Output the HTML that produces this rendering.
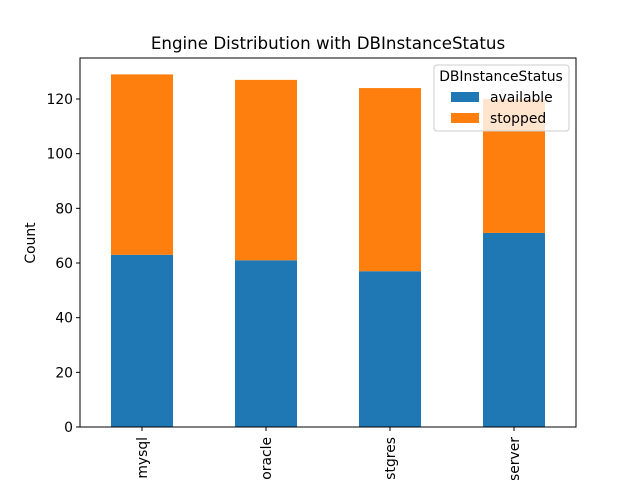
<!DOCTYPE html>
<html><head><meta charset="utf-8"><style>html,body{margin:0;background:#fff;overflow:hidden;width:640px;height:480px}svg{display:block;font-family:"DejaVu Sans","Liberation Sans",sans-serif}</style></head>
<body>
<svg id="chart" width="640" height="480" overflow="hidden">
<rect width="640" height="480" fill="#fff"/>
<text x="328" y="49" font-size="16.7" text-anchor="middle">Engine Distribution with DBInstanceStatus</text>
<g id="bars"></g>
<g id="yaxis"></g>
<g id="xaxis"></g>
<rect x="80" y="58" width="496" height="369" fill="none" stroke="#000" stroke-width="1"/>
<text transform="translate(35,243) rotate(-90)" font-size="13.9" text-anchor="middle">Count</text>
<g>
<rect x="434" y="65" width="135" height="66" rx="3" fill="#fff" fill-opacity="0.8" stroke="#ccc"/>
<text x="501" y="81" font-size="13.9" text-anchor="middle">DBInstanceStatus</text>
<rect x="451" y="92" width="28" height="10" fill="#1f77b4"/>
<text x="490" y="102" font-size="13.9">available</text>
<rect x="451" y="113" width="28" height="10" fill="#ff7f0e"/>
<text x="490" y="123" font-size="13.9">stopped</text>
</g>
</svg>
<script>
const categories=["mysql","oracle","postgres","sqlserver"];
const available=[63,61,57,71];
const stopped=[66,66,67,49];
const yTicks=[0,20,40,60,80,100,120];
const NS="http://www.w3.org/2000/svg";
const x0=80,x1=576,yTop=58,yBot=427,yMax=135;
function y(v){return yBot-(v/yMax)*(yBot-yTop);}
function xc(i){return x0+(i+0.5)*(x1-x0)/categories.length;}
const bw=62;
function mk(tag,attrs,parent){const e=document.createElementNS(NS,tag);for(const k in attrs)e.setAttribute(k,attrs[k]);parent.appendChild(e);return e;}
const bars=document.getElementById('bars'),ya=document.getElementById('yaxis'),xa=document.getElementById('xaxis');
categories.forEach((c,i)=>{
  const a=mk('rect',{x:xc(i)-bw/2,y:y(available[i]),width:bw,height:yBot-y(available[i]),fill:'#1f77b4'},bars);
  
  
  const tot=available[i]+stopped[i];
  const s=mk('rect',{x:xc(i)-bw/2,y:y(tot),width:bw,height:y(available[i])-y(tot),fill:'#ff7f0e'},bars);
  
  
  const t=mk('line',{x1:xc(i),x2:xc(i),y1:yBot,y2:yBot+4,stroke:'#000'},xa);
  
  
  const l=mk('text',{transform:`translate(${xc(i)+5},${yBot+10}) rotate(-90)`,'font-size':13.9,'text-anchor':'end'},xa);
  l.textContent=c;
  
  
});
yTicks.forEach(v=>{
  const t=mk('line',{x1:x0-4,x2:x0,y1:y(v),y2:y(v),stroke:'#000'},ya);
  
  
  const l=mk('text',{x:x0-7,y:y(v)+5,'font-size':13.9,'text-anchor':'end'},ya);
  l.textContent=v;
  
  
});
</script>
</body></html>
